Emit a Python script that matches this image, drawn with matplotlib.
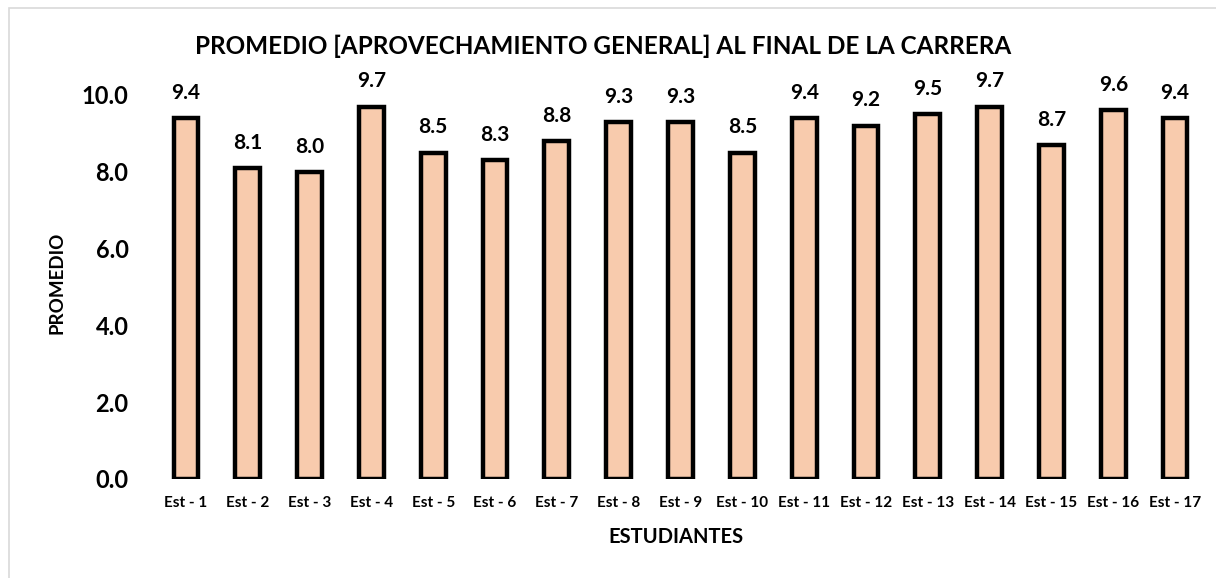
import matplotlib
matplotlib.use("Agg")
import matplotlib.pyplot as plt
from matplotlib.patches import Rectangle

plt.rcParams['font.family'] = ['Lato', 'DejaVu Sans']
plt.rcParams['font.weight'] = 'bold'

estudiantes = ["Est - %d" % i for i in range(1, 18)]
promedio = [9.4, 8.1, 8.0, 9.7, 8.5, 8.3, 8.8, 9.3, 9.3, 8.5, 9.4, 9.2, 9.5, 9.7, 8.7, 9.6, 9.4]
y_ticks = [0, 2, 4, 6, 8, 10]

fig = plt.figure(figsize=(12.16, 5.78), dpi=100)
ax = fig.add_axes([155/1216, 1 - 479/578, (1206 - 155)/1216, (479 - 95)/578])

x = range(len(promedio))
bars = ax.bar(x, promedio, width=0.4, color='#F8CBAD', edgecolor='black', linewidth=3.2)

for xi, v in zip(x, promedio):
    ax.annotate("%.1f" % v, (xi, v), xytext=(0, 11), textcoords='offset points',
                ha='center', va='bottom', fontsize=15, fontweight='bold',
                annotation_clip=False)

ax.set_xlim(-0.5, len(promedio) - 0.5)
ax.set_ylim(0, 10)
ax.set_yticks(y_ticks)
ax.set_yticklabels(["%.1f" % t for t in y_ticks], fontsize=17, fontweight='bold')
ax.set_xticks(list(x))
ax.set_xticklabels(estudiantes, fontsize=11, fontweight='bold')
ax.tick_params(axis='y', length=0, pad=19)
ax.tick_params(axis='x', length=0, pad=12)
for s in ax.spines.values():
    s.set_visible(False)

fig.text(676/1216, 1 - 537/578, "ESTUDIANTES", ha='center', va='center',
         fontsize=14.5, fontweight='bold')
fig.text(57/1216, 1 - 283/578, "PROMEDIO", ha='center', va='center', rotation=90,
         fontsize=13.5, fontweight='bold')

fig.text(603/1216, 1 - 46/578, "PROMEDIO [APROVECHAMIENTO GENERAL] AL FINAL DE LA CARRERA",
         ha='center', va='center', fontsize=17.5, fontweight='bold')

# chart area border
fig.patches.append(Rectangle((9/1216, -0.1), 1.2, 1 - 8/578 + 0.1, transform=fig.transFigure,
                             fill=False, edgecolor='#D9D9D9', linewidth=1.2))

fig.savefig("out.png", dpi=100)
